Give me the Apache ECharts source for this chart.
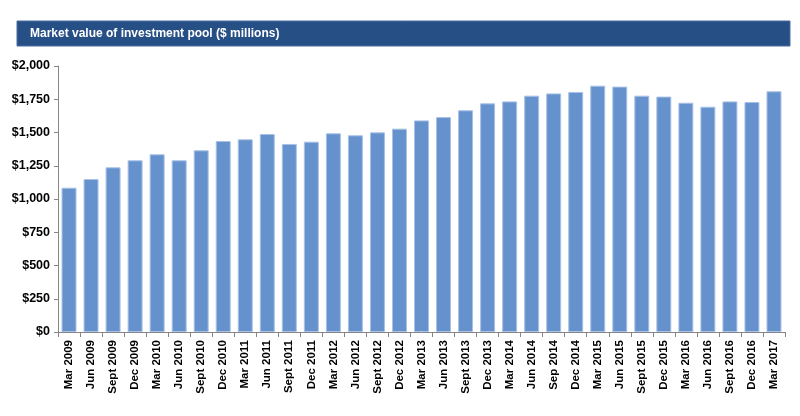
<!DOCTYPE html>
<html><head><meta charset="utf-8">
<script src="https://cdn.jsdelivr.net/npm/echarts@6/dist/echarts.min.js"></script>
<style>html,body{margin:0;padding:0;background:#fff}#c{width:800px;height:416px}</style>
</head><body><div id="c"></div>
<script>
const categories = ["Mar 2009","Jun 2009","Sept 2009","Dec 2009","Mar 2010","Jun 2010","Sept 2010","Dec 2010","Mar 2011","Jun 2011","Sept 2011","Dec 2011","Mar 2012","Jun 2012","Sept 2012","Dec 2012","Mar 2013","Jun 2013","Sept 2013","Dec 2013","Mar 2014","Jun 2014","Sep 2014","Dec 2014","Mar 2015","Jun 2015","Sept 2015","Dec 2015","Mar 2016","Jun 2016","Sept 2016","Dec 2016","Mar 2017"];
const values = [1085,1150,1238,1291,1336,1291,1366,1436,1449,1489,1414,1431,1494,1479,1501,1529,1591,1616,1667,1719,1734,1777,1794,1805,1852,1845,1777,1770,1724,1694,1734,1729,1810];
const titleText = "Market value of investment pool ($ millions)";

const chart = echarts.init(document.getElementById('c'));
const font = "'Liberation Sans', Arial, sans-serif";
chart.setOption({
  animation: false,
  graphic: [
    {type:'rect', shape:{x:17,y:21,width:773,height:25}, style:{fill:'#264f86', stroke:'#4a6fa0', lineWidth:1}},
    {type:'text', x:30, y:33.5, style:{text:titleText, fill:'#fff', font:"bold 12px 'Liberation Sans', Arial, sans-serif", verticalAlign:'middle'}}
  ],
  grid: {left:58, right:15, top:66, bottom:84},
  xAxis: {
    type:'category', data:categories,
    axisLine:{lineStyle:{color:'#868686'}},
    axisTick:{show:true, alignWithLabel:false, length:5, lineStyle:{color:'#868686'}},
    axisLabel:{rotate:90, interval:0, color:'#000', fontWeight:'bold', fontSize:11.5, fontFamily:font, margin:8}
  },
  yAxis: {
    type:'value', min:0, max:2000, interval:250,
    axisLine:{show:true, lineStyle:{color:'#868686'}},
    axisTick:{show:true, length:4, lineStyle:{color:'#868686'}},
    splitLine:{show:false},
    axisLabel:{color:'#000', fontWeight:'bold', fontSize:12.5, fontFamily:font, margin:8,
      formatter: v => '$' + v.toLocaleString('en-US')}
  },
  series: [{
    type:'bar', data:values, barCategoryGap:'32%',
    itemStyle:{color:'#6592cd', borderColor:'#a9c2e6', borderWidth:1}
  }]
});
</script></body></html>
